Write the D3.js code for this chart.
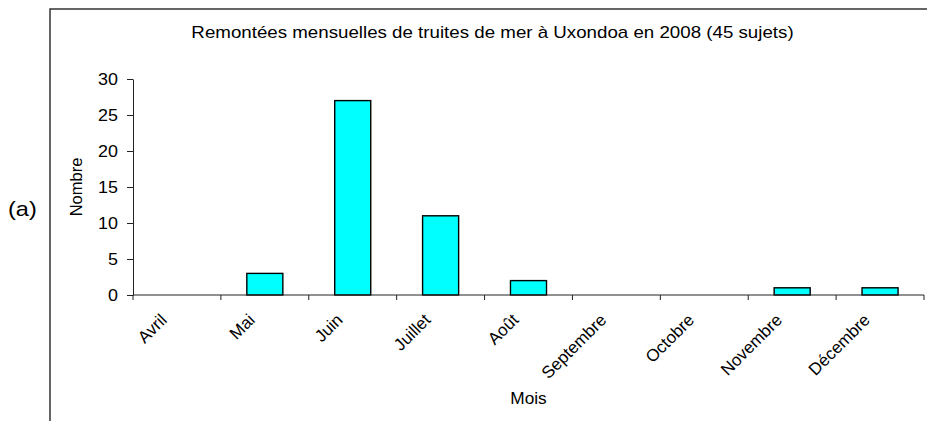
<!DOCTYPE html>
<html>
<head>
<meta charset="utf-8">
<script src="https://cdn.jsdelivr.net/npm/d3@7"></script>
<style>
  html, body { margin: 0; padding: 0; background: #fff; }
  svg { display: block; font-family: "Liberation Sans", Arial, sans-serif; }
</style>
</head>
<body>
<svg id="chart" width="927" height="421"></svg>
<script>
// ---- data ----
const months = ["Avril", "Mai", "Juin", "Juillet", "Août", "Septembre", "Octobre", "Novembre", "Décembre"];
const counts = [0, 3, 27, 11, 2, 0, 0, 1, 1];
const yTicks = [0, 5, 10, 15, 20, 25, 30];
const titleText = "Remontées mensuelles de truites de mer à Uxondoa en 2008 (45 sujets)";
const xLabel = "Mois";
const yLabel = "Nombre";
const panelLabel = "(a)";

const svg = d3.select("#chart");
const plot = { left: 133, right: 924, top: 79, bottom: 295 };

// frame (cropped chart area border)
svg.append("path")
  .attr("d", "M50,421 L50,9 L927,9")
  .attr("fill", "none").attr("stroke", "#333").attr("stroke-width", 1.5);

const x = d3.scaleBand().domain(months).range([plot.left, plot.right])
  .paddingInner(0.59).paddingOuter(0.295);
const y = d3.scaleLinear().domain([0, 30]).range([plot.bottom, plot.top]);

// title
svg.append("text")
  .attr("transform", `translate(${(plot.left + plot.right) / 2 - 36},37.5) scale(1.17,1)`)
  .attr("text-anchor", "middle").attr("font-size", 16).attr("fill", "#000")
  .text(titleText);

// y axis
const yAxis = svg.append("g").attr("transform", `translate(${plot.left},0)`)
  .call(d3.axisLeft(y).tickValues(yTicks).tickSize(6).tickPadding(9).tickSizeOuter(0));
yAxis.select(".domain").attr("stroke", "#222");
yAxis.selectAll(".tick line").attr("stroke", "#222");
yAxis.selectAll(".tick text")
  .attr("font-size", 16).attr("fill", "#000")
  .attr("font-family", "Liberation Sans, Arial, sans-serif")
  .each(function() {
    const t = d3.select(this);
    const xx = +t.attr("x");
    t.attr("x", null).attr("transform", `translate(${xx},0) scale(1.12,1)`);
  });

// x axis: ticks at category boundaries
const step = x.step();
const boundaries = d3.range(months.length + 1).map(i => plot.left + i * step);
const xg = svg.append("g");
xg.selectAll("line.tk").data(boundaries).join("line").attr("class", "tk")
  .attr("x1", d => d).attr("x2", d => d)
  .attr("y1", y(0)).attr("y2", y(0) + 5)
  .attr("stroke", "#222");

// bars
svg.append("g").selectAll("rect").data(months).join("rect")
  .attr("x", (d) => x(d))
  .attr("width", x.bandwidth())
  .attr("y", (d, i) => y(counts[i]))
  .attr("height", (d, i) => y(0) - y(counts[i]))
  .attr("fill", "#00ffff").attr("stroke", "#000").attr("stroke-width", 1.4);

// axis line on top
svg.append("line")
  .attr("x1", plot.left).attr("x2", plot.right)
  .attr("y1", y(0)).attr("y2", y(0))
  .attr("stroke", "#222");

// x tick labels
svg.append("g").selectAll("text").data(months).join("text")
  .attr("transform", d => `translate(${x(d) + x.bandwidth() / 2 - 9},${y(0) + 26}) rotate(-45)`)
  .attr("text-anchor", "end")
  .attr("font-size", 17).attr("fill", "#000")
  .text(d => d);

// axis titles
svg.append("text")
  .attr("transform", `translate(${(plot.left + plot.right) / 2},404) scale(1.08,1)`)
  .attr("text-anchor", "middle").attr("font-size", 16).attr("fill", "#000")
  .text(xLabel);

svg.append("text")
  .attr("transform", `translate(82,${(plot.top + plot.bottom) / 2}) rotate(-90)`)
  .attr("text-anchor", "middle").attr("font-size", 16.5).attr("fill", "#000")
  .text(yLabel);

svg.append("text")
  .attr("transform", `translate(8,216) scale(1.12,1)`)
  .attr("font-size", 21).attr("fill", "#000")
  .text(panelLabel);
</script>
</body>
</html>
